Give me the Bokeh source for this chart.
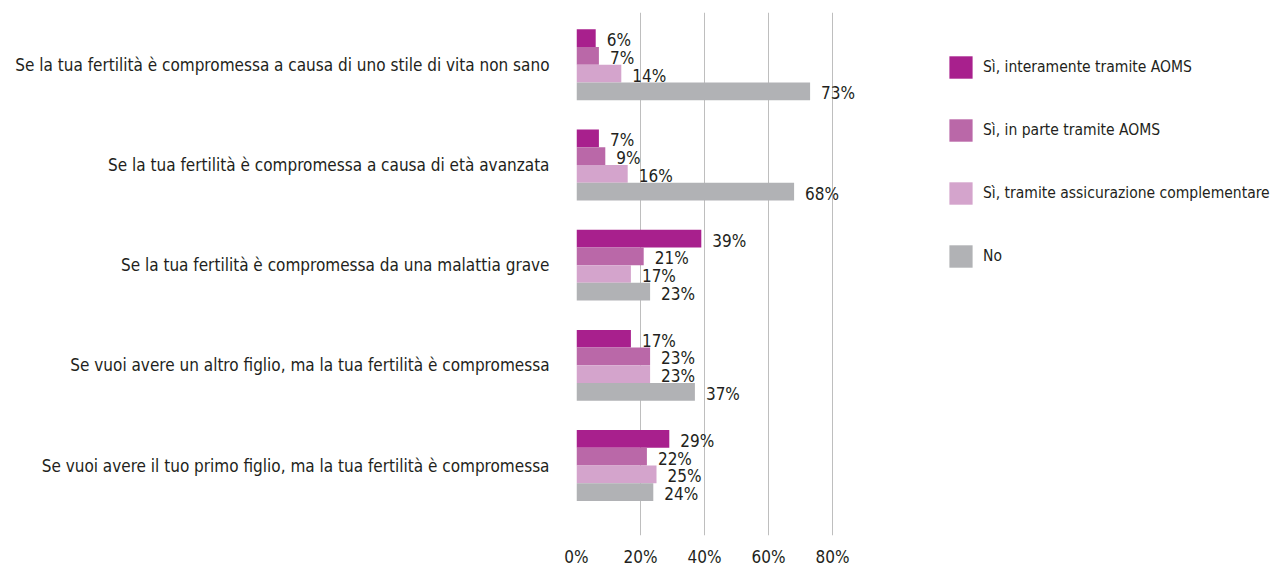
from bokeh.plotting import figure
from bokeh.models import (ColumnDataSource, Range1d, FixedTicker, PrintfTickFormatter,
                          Legend, LegendItem)
from bokeh.core.properties import value
from bokeh.embed import file_html
from bokeh.resources import INLINE
import numpy as np

categories = [
    "Se la tua fertilità è compromessa a causa di uno stile di vita non sano",
    "Se la tua fertilità è compromessa a causa di età avanzata",
    "Se la tua fertilità è compromessa da una malattia grave",
    "Se vuoi avere un altro figlio, ma la tua fertilità è compromessa",
    "Se vuoi avere il tuo primo figlio, ma la tua fertilità è compromessa",
]
series_names = [
    "Sì, interamente tramite AOMS",
    "Sì, in parte tramite AOMS",
    "Sì, tramite assicurazione complementare",
    "No",
]
interamente_aoms = [6, 7, 39, 17, 29]
in_parte_aoms = [7, 9, 21, 23, 22]
assicurazione = [14, 16, 17, 23, 25]
no = [73, 68, 23, 37, 24]
series_values = [interamente_aoms, in_parte_aoms, assicurazione, no]
colors = ["#A8208D", "#BA68A8", "#D4A4CC", "#B1B2B5"]
x_ticks = [0, 20, 40, 60, 80]

FONT_NAME = "DejaVu Sans Condensed"
FONT = value(FONT_NAME)
TEXT = "#231F20"

W, H = 1274, 569
LEFT, TOP, BOTTOM = 576, 12, 26
frame_w = W - LEFT
frame_h = H - TOP - BOTTOM
px_per_pct = 3.2
px_per_cat = 101.75
bar_px = 18.0
top_pad_px = 53.0

y_start = -top_pad_px / px_per_cat
y_end = y_start + frame_h / px_per_cat

p = figure(width=W, height=H, output_backend="svg", toolbar_location=None,
           x_range=Range1d(0, frame_w / px_per_pct),
           y_range=Range1d(y_end, y_start),
           min_border_left=LEFT, min_border_right=0, min_border_top=TOP,
           min_border_bottom=BOTTOM)
p.outline_line_color = None
p.background_fill_color = "white"
p.border_fill_color = "white"

bar_h = bar_px / px_per_cat
idx = np.arange(len(categories))
items = []
for j, (name, vals, col) in enumerate(zip(series_names, series_values, colors)):
    y = idx + (j - 1.5) * bar_h
    src = ColumnDataSource(dict(y=y, v=vals, lab=[f"{v}%" for v in vals]))
    r = p.hbar(y="y", right="v", left=0, height=bar_h, source=src,
               fill_color=col, line_color=None)
    p.text(x="v", y="y", text="lab", source=src, x_offset=11, y_offset=2,
           text_align="left", text_baseline="middle", text_font=FONT,
           text_font_size="17px", text_color=TEXT)
    items.append(LegendItem(label=name, renderers=[r]))

# x axis
p.xaxis.ticker = FixedTicker(ticks=x_ticks)
p.xaxis.formatter = PrintfTickFormatter(format="%d%%")
p.xaxis.axis_line_color = None
p.xaxis.major_tick_line_color = None
p.xaxis.minor_tick_line_color = None
p.xaxis.major_label_standoff = 5
p.xaxis.major_label_text_font = FONT_NAME
p.xaxis.major_label_text_font_size = "17px"
p.xaxis.major_label_text_color = TEXT

p.xgrid.ticker = FixedTicker(ticks=x_ticks)
p.xgrid.grid_line_color = "#BEBEBE"
p.xgrid.grid_line_width = 1
p.ygrid.grid_line_color = None

# y axis with categories
p.yaxis.ticker = FixedTicker(ticks=list(range(len(categories))))
p.yaxis.major_label_overrides = {i: c for i, c in enumerate(categories)}
p.yaxis.axis_line_color = None
p.yaxis.major_tick_line_color = None
p.yaxis.minor_tick_line_color = None
p.yaxis.major_label_standoff = 21
p.yaxis.major_label_text_font = FONT_NAME
p.yaxis.major_label_text_font_size = "17px"
p.yaxis.major_label_text_color = TEXT

glyph_w, glyph_h, spacing = 29, 28, 35
leg_h = 4 * glyph_h + 3 * spacing
legend = Legend(items=items, location=(370, frame_h - 49 - leg_h),
                glyph_width=glyph_w, glyph_height=glyph_h, spacing=spacing,
                label_height=glyph_h, label_standoff=8, padding=0, margin=0,
                label_text_font=FONT_NAME, label_text_font_size="15.5px",
                label_text_color=TEXT, border_line_color=None,
                background_fill_alpha=0)
p.add_layout(legend)

open("out.html", "w").write(file_html(p, INLINE))
